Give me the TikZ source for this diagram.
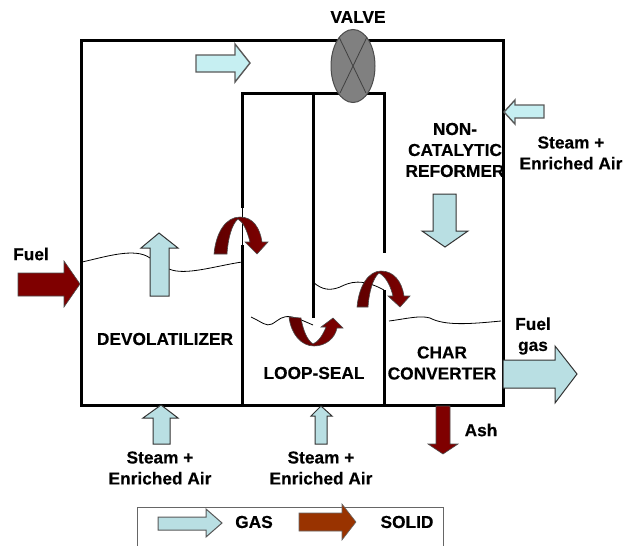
\documentclass[tikz,border=0pt]{standalone}
\usepackage{fontspec}
\setmainfont[BoldFeatures={FakeBold=0.4}]{Liberation Sans}
\definecolor{gasfill}{HTML}{B9DFE3}
\definecolor{gaslight}{HTML}{C6EFF2}
\definecolor{solidfill}{HTML}{7F0000}
\definecolor{legendsolid}{HTML}{993300}
\definecolor{valvefill}{HTML}{808080}
\tikzset{
  wall/.style={draw=black,line width=3pt},
  wavy/.style={draw=black,line width=0.8pt},
  gasarrow/.style={draw=black!80,line width=1pt,fill=gasfill,line join=miter},
  gastop/.style={draw=black!65,line width=1.4pt,fill=gaslight,line join=miter},
  solidarrow/.style={draw=black!70,line width=0.6pt,fill=solidfill},
  curvearrow/.style={draw=black!70,line width=0.6pt,left color=solidfill!75!black,right color=solidfill},
  txt/.style={font=\fontsize{17.3}{21}\selectfont\bfseries,align=center,inner sep=0pt,text=black},
}
\begin{document}
\begin{tikzpicture}[x=1pt,y=-1pt]
\useasboundingbox (0,0) rectangle (624,546);
% waves
\draw[wavy] (82,262) .. controls (105,257) and (135,247) .. (150,258);
\draw[wavy] (169,269) .. controls (185,276) and (215,266) .. (242,262);
\draw[wavy] (251,317) .. controls (262,322) and (266,327) .. (272,324) .. controls (279,320) and (282,315) .. (292,317) .. controls (300,319) and (306,322) .. (313,325);
\draw[wavy] (313,282) .. controls (322,290) and (330,291) .. (340,287) .. controls (350,282) and (362,278) .. (384,290);
\draw[wavy] (389,321) .. controls (405,319) and (420,315) .. (430,318) .. controls (445,326) and (470,324) .. (501,321);
% outer walls
\draw[wall] (81,40) rectangle (503,405);
% inner walls
\draw[wall] (242,208) -- (242,93) -- (384,93) -- (384,253);
\draw[draw=black,line width=0.5pt] (242,208) -- (242,245);
\draw[wall] (242,245) -- (242,405) -- (384,405) -- (384,290);
\draw[wall] (313,93) -- (313,318);
% valve
\draw[draw=black!70,line width=1pt,fill=valvefill] (353,66) ellipse [x radius=22,y radius=36.5];
\draw[draw=black!75,line width=0.8pt] (339,37) -- (366,93) (367,37) -- (340,93);
% gas arrows
\draw[gastop] (196,55) -- (235,55) -- (235,44) -- (250,63) -- (235,82) -- (235,72) -- (196,72) -- cycle;
\draw[gastop] (504,112) -- (515,100) -- (515,105) -- (544,105) -- (544,118) -- (515,118) -- (515,124) -- cycle;
\draw[gasarrow] (150,296) -- (150,248) -- (141,248) -- (159,233) -- (178,248) -- (169,248) -- (169,296) -- cycle;
\draw[gasarrow] (433,194) -- (456,194) -- (456,231) -- (468,231) -- (445,247) -- (422,231) -- (433,231) -- cycle;
\draw[gasarrow] (153,444) -- (153,418) -- (143,418) -- (161,405) -- (178,418) -- (170,418) -- (170,444) -- cycle;
\draw[gasarrow] (315,444) -- (315,416) -- (311,416) -- (321,406) -- (332,416) -- (327,416) -- (327,444) -- cycle;
\draw[gasarrow] (503,360) -- (555,360) -- (555,346) -- (577,374) -- (555,403) -- (555,388) -- (503,388) -- cycle;
% solid arrows
\draw[solidarrow] (18,273) -- (64,273) -- (64,261) -- (80,284) -- (64,307) -- (64,296) -- (18,296) -- cycle;
\draw[solidarrow] (436,406) -- (450,406) -- (450,444) -- (458,444) -- (443,454) -- (428,444) -- (436,444) -- cycle;
% curved solid arrows
\draw[curvearrow] (214,254) .. controls (216,232) and (226,217) .. (240,217) .. controls (253,217) and (260,228) .. (262,242) -- (268,242) -- (257,254) -- (245,242) -- (250,242) .. controls (247,230) and (243,222) .. (238,219) .. controls (232,224) and (228,238) .. (227,254) -- cycle;
\draw[curvearrow] (357,307) .. controls (359,285) and (369,271) .. (381,271) .. controls (394,271) and (402,282) .. (404,296) -- (410,296) -- (400,307) -- (388,296) -- (393,296) .. controls (390,284) and (385,276) .. (379,273) .. controls (373,278) and (369,292) .. (368,307) -- cycle;
\draw[curvearrow] (289,317) .. controls (291,334) and (301,346) .. (314,346) .. controls (326,346) and (335,338) .. (337,328) -- (343,328) -- (333,318) -- (321,327) -- (326,327) .. controls (323,335) and (318,342) .. (313,344) .. controls (307,340) and (303,330) .. (301,318) -- cycle;
% legend
\draw[draw=black!60,line width=0.8pt] (137,546) -- (137,507) -- (443,507) -- (443,546);
\draw[gasarrow,draw=black!65] (158,517) -- (206,517) -- (206,509) -- (222,523) -- (206,537) -- (206,530) -- (158,530) -- cycle;
\draw[draw=black!60,line width=0.6pt,fill=legendsolid] (299,513) -- (342,513) -- (342,504) -- (356,522) -- (342,540) -- (342,531) -- (299,531) -- cycle;
% labels
\node[txt] (valve) at (358,17) {VALVE};
\node[txt] (fuel) at (31,254) {Fuel};
\node[txt] (devol) at (165,339) {DEVOLATILIZER};
\node[txt] (loop) at (314,373) {LOOP-SEAL};
\node[txt] (reformer) at (455,150) {NON-\\CATALYTIC\\REFORMER};
\node[txt] (steamr) at (571,153) {Steam +\\Enriched Air};
\node[txt] (char) at (442,363) {CHAR\\CONVERTER};
\node[txt] (fuelgas) at (533,336) {Fuel\\gas};
\node[txt] (ash) at (481,430) {Ash};
\node[txt] (steaml) at (160,468) {Steam +\\Enriched Air};
\node[txt] (steamm) at (321,468) {Steam +\\Enriched Air};
\node[txt] (gas) at (254,522) {GAS};
\node[txt] (solid) at (407,522) {SOLID};
\end{tikzpicture}
\end{document}
